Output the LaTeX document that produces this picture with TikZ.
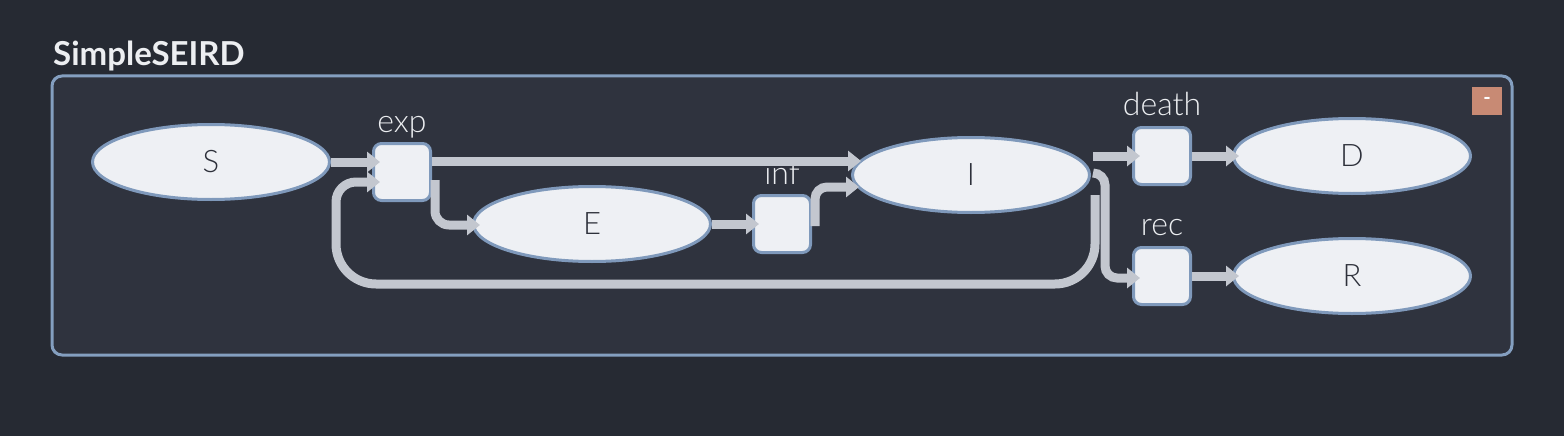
\documentclass[tikz,border=0pt]{standalone}
\usepackage{fontspec}
\setmainfont{Lato}
\newfontfamily\lightfont{Lato Light}
\usetikzlibrary{arrows.meta,calc,shapes.geometric}
\definecolor{pagebg}{HTML}{262A33}
\definecolor{panel}{HTML}{2F333E}
\definecolor{frame}{HTML}{849FC0}
\definecolor{nodeborder}{HTML}{7F99BB}
\definecolor{nodefill}{HTML}{EEF0F4}
\definecolor{nodetext}{HTML}{2D303A}
\definecolor{labeltext}{HTML}{ECEEF1}
\definecolor{edgegray}{HTML}{C3C7CF}
\definecolor{toggle}{HTML}{C88A74}
\begin{document}
\begin{tikzpicture}[x=1pt, y=-1pt, >={Triangle[length=13pt,width=20pt]},
    state/.style={ellipse, draw=nodeborder, fill=nodefill, line width=3pt,
        minimum width=237pt, minimum height=75pt, inner sep=0pt,
        text=nodetext, font=\lightfont\fontsize{31}{36}\selectfont},
    rate/.style={draw=nodeborder, fill=nodefill, line width=3pt,
        rounded corners=8pt, minimum size=57pt, inner sep=0pt},
    ratelbl/.style={anchor=base, inner sep=0pt, text=labeltext,
        font=\lightfont\fontsize{32}{36}\selectfont},
    flow/.style={->, draw=edgegray, line width=9pt}]
    % fond
    \fill[pagebg] (0,0) rectangle (1564,436);
    \useasboundingbox (0,0) rectangle (1564,436);

    % modele
    \draw[frame, fill=panel, line width=3pt, rounded corners=10pt] (52,76) rectangle (1512,355);
    \node[anchor=base west, inner sep=0pt, text=labeltext, font=\bfseries\fontsize{33}{38}\selectfont] (title) at (53,66) {SimpleSEIRD};
    \node[fill=toggle, minimum width=30pt, minimum height=28pt, inner sep=0pt, text=white, font=\bfseries\fontsize{20}{20}\selectfont] (fold) at (1487,101) {-};

    % compartiments
    \node[state] (S) at (211,162) {S};
    \node[state] (E) at (592,224) {E};
    \node[state] (I) at (971,175) {I};
    \node[state] (D) at (1352,156) {D};
    \node[state] (R) at (1352,276) {R};

    % transitions
    \node[rate] (exp) at (402,172) {};
    \node[rate] (inf) at (782,224) {};
    \node[rate] (death) at (1162,156) {};
    \node[rate] (rec) at (1162,276) {};
    \node[ratelbl] (explbl) at ($(exp.north)+(0,-10)$) {exp};
    \node[ratelbl] (inflbl) at ($(inf.north)+(0,-10)$) {inf};
    \node[ratelbl] (deathlbl) at ($(death.north)+(0,-11)$) {death};
    \node[ratelbl] (reclbl) at ($(rec.north)+(0,-11)$) {rec};

    % flux
    \draw[flow] (S.east) -- ($(exp.west)+(8,-10)$);
    \draw[flow] ($(exp.east)+(0,-11)$) -- ($(I.west)+(10,-14)$);
    \draw[flow, rounded corners=14pt] ($(exp.east)+(3,8)$) |- ($(E.west)+(8,1)$);
    \draw[flow] (E.east) -- ($(inf.west)+(7,0)$);
    \draw[flow, rounded corners=12pt] ($(inf.east)+(3,2)$) |- ($(I.west)+(8,12)$);
    \draw[flow, rounded corners=40pt] ($(I.east)+(4,20)$) -- ++(0,89) -- ($(exp.west)+(-36,112)$)
        [rounded corners=20pt] -- ($(exp.west)+(-36,10)$) -- ($(exp.west)+(8,10)$);
    \draw[flow] ($(I.east |- death.west)+(2,0)$) -- ($(death.west)+(8,0)$);
    \draw[flow, rounded corners=12pt] ($(I.east)+(2,-2)$) -- ++(12,0) |- ($(rec.west)+(8,2)$);
    \draw[flow] (death.east) -- ($(D.west)+(7,0)$);
    \draw[flow] (rec.east) -- ($(R.west)+(7,0)$);
\end{tikzpicture}
\end{document}
